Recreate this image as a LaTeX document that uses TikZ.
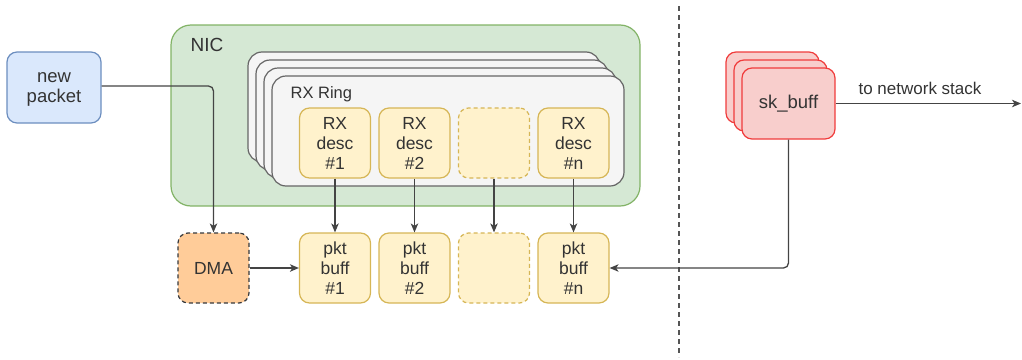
\documentclass[tikz,border=0pt]{standalone}
\usepackage{fontspec}
\setmainfont{Liberation Sans}
\usetikzlibrary{arrows.meta}

\definecolor{txt}{HTML}{333333}
\definecolor{wirec}{HTML}{444444}
\definecolor{blufill}{HTML}{DAE8FC}
\definecolor{bluline}{HTML}{6C8EBF}
\definecolor{grnfill}{HTML}{D5E8D4}
\definecolor{grnline}{HTML}{82B366}
\definecolor{ringfill}{HTML}{F5F5F5}
\definecolor{ringline}{HTML}{666666}
\definecolor{yelfill}{HTML}{FFF2CC}
\definecolor{yelline}{HTML}{D6B656}
\definecolor{orgfill}{HTML}{FFCC99}
\definecolor{orgline}{HTML}{36393D}
\definecolor{redfill}{HTML}{F8CECC}
\definecolor{redline}{HTML}{F03C3C}
\definecolor{sepline}{HTML}{555555}

\tikzset{
  base/.style={inner sep=0pt, align=center, text=txt, line width=1.2pt},
  cell/.style={base, rounded corners=10pt, minimum width=71pt, minimum height=70pt,
               font=\fontsize{17.5}{20}\selectfont},
  slot/.style={cell, fill=yelfill, draw=yelline},
  emptyslot/.style={slot, dash pattern=on 4pt off 3pt},
  ringcard/.style={base, rounded corners=14pt, minimum width=352pt, minimum height=110pt,
                   fill=ringfill, draw=ringline},
  skcard/.style={base, rounded corners=10pt, minimum width=93pt, minimum height=71pt,
                 fill=redfill, draw=redline, font=\fontsize{18.5}{21}\selectfont},
  wire/.style={draw=wirec, line width=1.3pt, rounded corners=5pt},
  arr/.style={wire, -{Stealth[length=9pt,width=7.5pt,inset=2.5pt]}},
}

\begin{document}
\begin{tikzpicture}[x=1pt,y=-1pt]
\useasboundingbox (0,0) rectangle (1022,359);

% incoming packet
\node[base, rounded corners=10pt, minimum width=94pt, minimum height=71pt,
      fill=blufill, draw=bluline, font=\fontsize{18.5}{20}\selectfont, text depth=0pt]
      (np) at (54,87.5) {new\\packet};

% NIC enclosure
\node[base, rounded corners=20pt, minimum width=469pt, minimum height=181pt,
      fill=grnfill, draw=grnline] (nic) at (405.5,115.5) {};
\node[base, anchor=base west, font=\fontsize{19}{22}\selectfont] (niclbl) at (190,51.5) {NIC};

% stacked RX rings
\node[ringcard] (ringA) at (424,107) {};
\node[ringcard] (ringB) at (432,115) {};
\node[ringcard] (ringC) at (440,123) {};
\node[ringcard] (ringD) at (448,131) {};
\node[base, anchor=base west, font=\fontsize{16.5}{20}\selectfont] (ringlbl) at (290,98) {RX Ring};

% descriptors
\node[slot] (rx1) at (335,143) {RX\\desc\\\#1};
\node[slot] (rx2) at (414.5,143) {RX\\desc\\\#2};
\node[emptyslot] (rx3) at (494,143) {};
\node[slot] (rx4) at (573.5,143) {RX\\desc\\\#n};

% packet buffers
\node[slot] (pb1) at (335,268) {pkt\\buff\\\#1};
\node[slot] (pb2) at (414.5,268) {pkt\\buff\\\#2};
\node[emptyslot] (pb3) at (494,268) {};
\node[slot] (pb4) at (573.5,268) {pkt\\buff\\\#n};

% DMA engine
\node[cell, fill=orgfill, draw=orgline, dash pattern=on 4pt off 3pt] (dma) at (213.5,268) {DMA};

% sk_buff stack
\node[skcard] (skA) at (772.5,87.5) {};
\node[skcard] (skB) at (780.5,95.5) {};
\node[skcard] (skC) at (788.5,103.5) {sk\_buff};

% kernel / hardware boundary
\coordinate (sepTop) at (679,6);
\coordinate (sepBot) at (679,357);
\draw[draw=sepline, line width=1.3pt, dash pattern=on 5pt off 4pt] (sepTop) -- (sepBot);

% connectors
\draw[arr] ([yshift=1.5pt]np.east) -| (dma.north);
\draw[arr] (dma) -- (pb1);
\draw[arr] (rx1) -- (pb1);
\draw[arr] (rx2) -- (pb2);
\draw[arr] (rx3) -- (pb3);
\draw[arr] (rx4) -- (pb4);
\draw[arr] (skC.south) |- (pb4.east);

\coordinate (stack) at (1021,103.5);
\draw[arr] (skC.east) -- (stack);
\node[base, font=\fontsize{17}{20}\selectfont] (stacklbl) at (920,88) {to network stack};
\end{tikzpicture}
\end{document}
